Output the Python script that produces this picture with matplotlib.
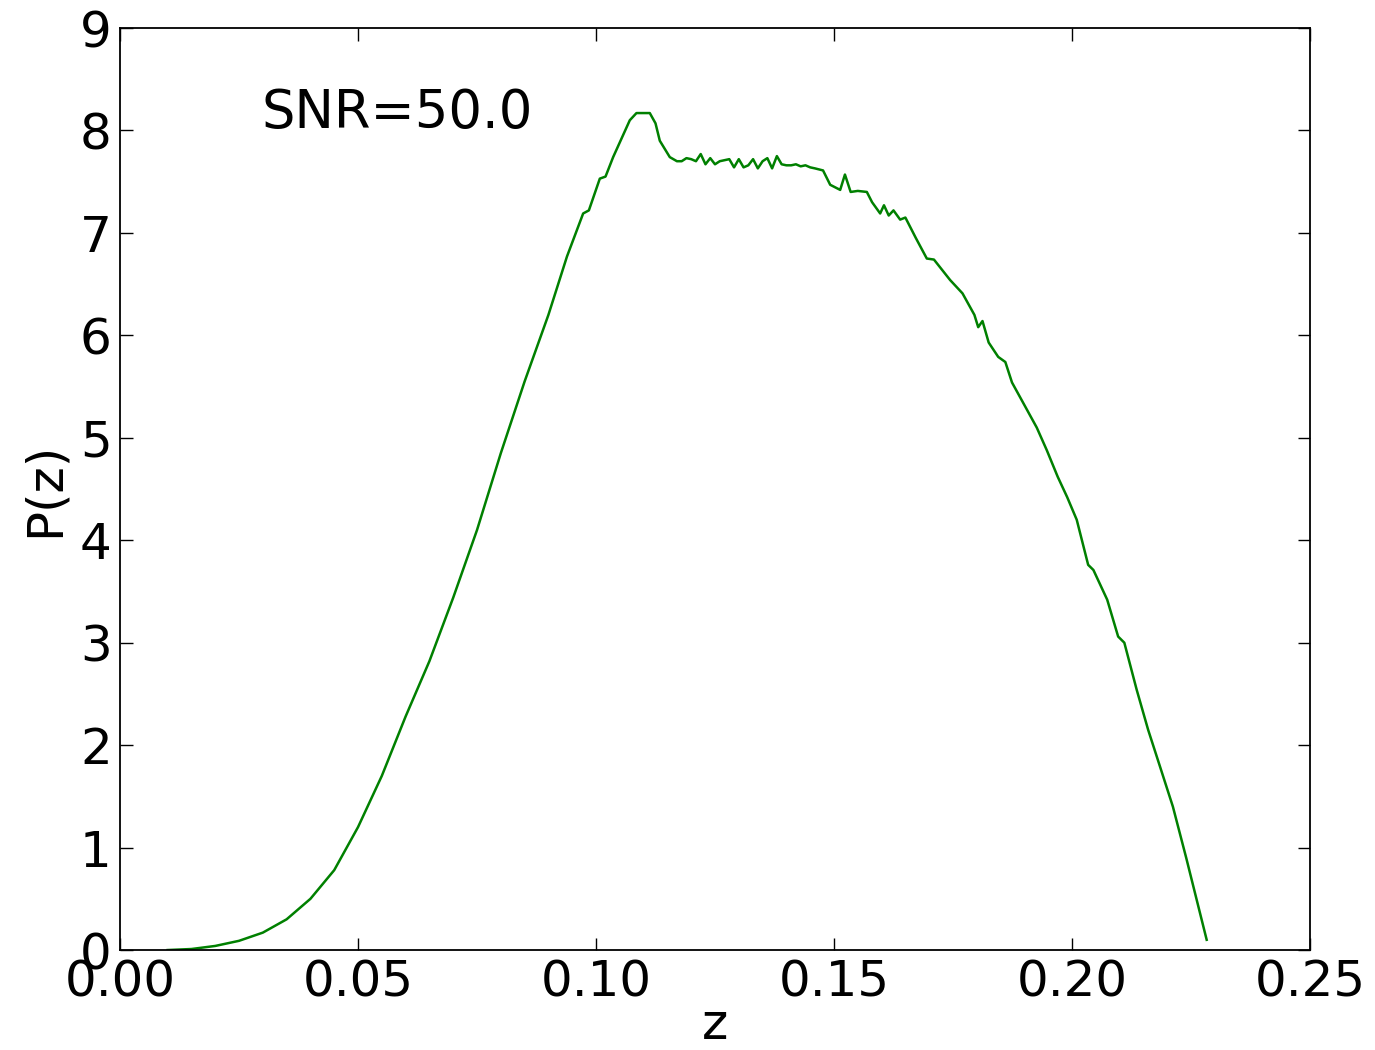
import matplotlib
matplotlib.use("Agg")
import matplotlib.pyplot as plt

z = [0.010, 0.015, 0.020, 0.025, 0.030, 0.035, 0.040, 0.045, 0.050, 0.055,
     0.060, 0.065, 0.070, 0.075, 0.080, 0.085, 0.090, 0.0939, 0.0973, 0.0985,
     0.1008, 0.102, 0.1036, 0.1071, 0.1085, 0.1113, 0.1125, 0.1134, 0.1155, 0.117,
     0.118, 0.119, 0.120, 0.121, 0.122, 0.123, 0.124, 0.125, 0.126, 0.127,
     0.128, 0.129, 0.130, 0.131, 0.132, 0.133, 0.134, 0.135, 0.136, 0.137,
     0.138, 0.139, 0.140, 0.141, 0.142, 0.143, 0.144, 0.145, 0.146, 0.1477,
     0.1492, 0.1513, 0.1523, 0.1535, 0.155, 0.1569, 0.158, 0.1597, 0.1605, 0.1615,
     0.1625, 0.1639, 0.165, 0.1672, 0.1695, 0.171, 0.1744, 0.177, 0.1795, 0.1803,
     0.1812, 0.1825, 0.1845, 0.1860, 0.1874, 0.190, 0.1926, 0.1947, 0.197, 0.199,
     0.201, 0.2034, 0.2045, 0.2074, 0.2097, 0.2110, 0.2136, 0.2160, 0.2185, 0.2212,
     0.2240, 0.2283]
pz = [0.0, 0.01, 0.04, 0.09, 0.17, 0.30, 0.50, 0.78, 1.20, 1.70,
      2.28, 2.82, 3.44, 4.10, 4.85, 5.55, 6.20, 6.77, 7.19, 7.22,
      7.53, 7.55, 7.74, 8.10, 8.17, 8.17, 8.07, 7.90, 7.74, 7.70,
      7.70, 7.73, 7.72, 7.70, 7.77, 7.67, 7.73, 7.67, 7.70, 7.71,
      7.72, 7.64, 7.72, 7.64, 7.66, 7.72, 7.63, 7.70, 7.73, 7.63,
      7.75, 7.67, 7.66, 7.66, 7.67, 7.65, 7.66, 7.64, 7.63, 7.61,
      7.47, 7.42, 7.57, 7.40, 7.41, 7.40, 7.30, 7.19, 7.27, 7.17,
      7.22, 7.13, 7.15, 6.95, 6.75, 6.74, 6.54, 6.41, 6.20, 6.08,
      6.14, 5.93, 5.79, 5.74, 5.54, 5.32, 5.10, 4.88, 4.62, 4.42,
      4.20, 3.76, 3.71, 3.42, 3.06, 3.00, 2.54, 2.15, 1.79, 1.40,
      0.90, 0.10]

xticks = [0.00, 0.05, 0.10, 0.15, 0.20, 0.25]
yticks = list(range(10))
annotation = "SNR=50.0"

plt.rcParams['font.family'] = ['DejaVu Sans']
fs = 36

fig = plt.figure(figsize=(13.75, 10.5), dpi=100)
ax = fig.add_axes([0.0873, 0.0952, 0.9527 - 0.0873, 0.9733 - 0.0952])
ax.plot(z, pz, color='g', lw=1.8)
ax.set_xlim(0, 0.25)
ax.set_ylim(0, 9)
ax.set_xticks(xticks)
ax.set_xticklabels(["%.2f" % t for t in xticks])
ax.set_yticks(yticks)
ax.tick_params(direction='in', top=True, right=True, length=9, width=1,
               labelsize=fs, pad=6)
for s in ax.spines.values():
    s.set_linewidth(1.3)
ax.set_xlabel("z", fontsize=fs, labelpad=-4)
ax.set_ylabel("P(z)", fontsize=fs, labelpad=8)
ax.text(0.0298, 8.02, annotation, fontsize=38, ha='left', va='baseline')
fig.savefig("out.png", dpi=100)
